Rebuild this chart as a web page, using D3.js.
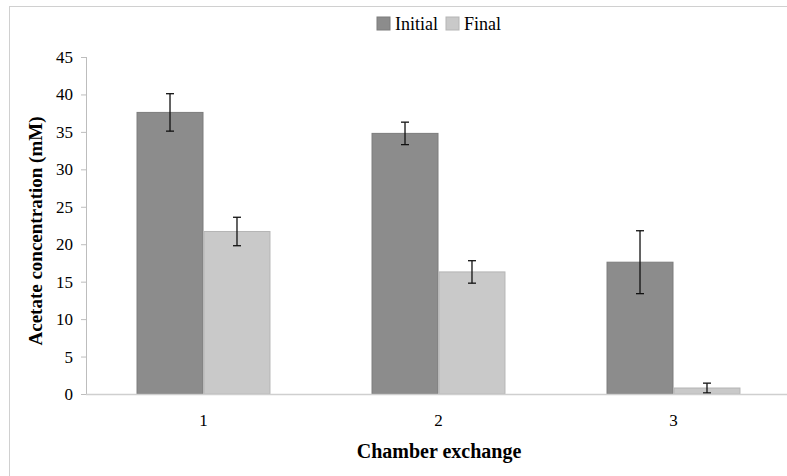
<!DOCTYPE html>
<html><head><meta charset="utf-8">
<script src="https://cdn.jsdelivr.net/npm/d3@7"></script>
<style>body{margin:0;background:#fff}svg{display:block}svg text{font-family:"Liberation Serif","Times New Roman",serif}</style>
</head><body>
<svg id="c" width="787" height="476"></svg>
<script>
const categories = ["1","2","3"];
const series = ["Initial","Final"];
const initialVals = [37.6, 34.8, 17.6];
const initialErr = [2.5, 1.5, 4.2];
const finalVals = [21.7, 16.3, 0.8];
const finalErr = [1.9, 1.5, 0.65];
const yTicks = [0,5,10,15,20,25,30,35,40,45];
const colors = {Initial:"#8c8c8c", Final:"#c9c9c9"};
const strokes = {Initial:"#7c7c7c", Final:"#b5b5b5"};

const svg = d3.select("#c");
const font = "Liberation Serif";
svg.append("rect").attr("x",9.5).attr("y",6.5).attr("width",800).attr("height",500)
  .attr("fill","none").attr("stroke","#d0d0d0");

const x0 = d3.scaleBand().domain(categories).range([86,791]).paddingInner(0.43).paddingOuter(0.215);
const x1 = d3.scaleBand().domain(series).range([0,x0.bandwidth()]);
const y = d3.scaleLinear().domain([0,45]).range([394,57]);

const data = categories.map((c,i)=>({c, vals:[
  {s:"Initial", v:initialVals[i], e:initialErr[i]},
  {s:"Final", v:finalVals[i], e:finalErr[i]}]}));

// y axis
const ya = svg.append("g").attr("transform","translate(86,0)")
  .call(d3.axisLeft(y).tickValues(yTicks).tickSize(5).tickPadding(8));
ya.attr("font-family",font);
ya.select(".domain").attr("stroke","#bdbdbd").attr("d","M0.5,57V394.5");
ya.selectAll(".tick line").attr("stroke","#bdbdbd");
ya.selectAll("text").attr("font-size",17).attr("fill","#000");

// bars
const g = svg.append("g").selectAll("g").data(data).join("g")
  .attr("transform",d=>`translate(${x0(d.c)},0)`);
g.selectAll("rect").data(d=>d.vals).join("rect")
  .attr("x",d=>x1(d.s)+0.5).attr("width",x1.bandwidth()-1)
  .attr("y",d=>y(d.v)).attr("height",d=>y(0)-y(d.v))
  .attr("fill",d=>colors[d.s]).attr("stroke",d=>strokes[d.s]).attr("stroke-width",1);

// x axis
const xa = svg.append("g").attr("transform","translate(0,394)")
  .call(d3.axisBottom(x0).tickSize(0).tickPadding(20));
xa.attr("font-family",font);
xa.select(".domain").attr("stroke","#cfcfcf").attr("stroke-width",1.5).attr("d","M86,0.5H787");
xa.selectAll("text").attr("font-size",17).attr("fill","#000");

// error bars
const eb = g.selectAll("g.err").data(d=>d.vals).join("g").attr("class","err")
  .attr("transform",d=>`translate(${x1(d.s)+x1.bandwidth()/2},0)`);
eb.append("line").attr("x1",0).attr("x2",0).attr("y1",d=>y(d.v+d.e)).attr("y2",d=>y(Math.max(0,d.v-d.e)))
  .attr("stroke","#111").attr("stroke-width",1.3);
eb.append("line").attr("x1",-4).attr("x2",4).attr("y1",d=>y(d.v+d.e)).attr("y2",d=>y(d.v+d.e))
  .attr("stroke","#111").attr("stroke-width",1.3);
eb.append("line").attr("x1",-4).attr("x2",4).attr("y1",d=>y(Math.max(0,d.v-d.e))).attr("y2",d=>y(Math.max(0,d.v-d.e)))
  .attr("stroke","#111").attr("stroke-width",1.3);

// titles
svg.append("text").attr("x",439).attr("y",458).attr("text-anchor","middle")
  .attr("font-size",20).attr("font-weight","bold").text("Chamber exchange");
svg.append("text").attr("transform","translate(42,231) rotate(-90)").attr("text-anchor","middle")
  .attr("font-size",19).attr("font-weight","bold").text("Acetate concentration (mM)");

// legend
const lg = svg.append("g");
const lx = [377, 446];
series.forEach((s,i)=>{
  lg.append("rect").attr("x",lx[i]).attr("y",17).attr("width",13).attr("height",13)
    .attr("fill",colors[s]).attr("stroke",strokes[s]);
  lg.append("text").attr("x",lx[i]+18).attr("y",30).attr("font-size",18).text(s);
});
</script>
</body></html>
